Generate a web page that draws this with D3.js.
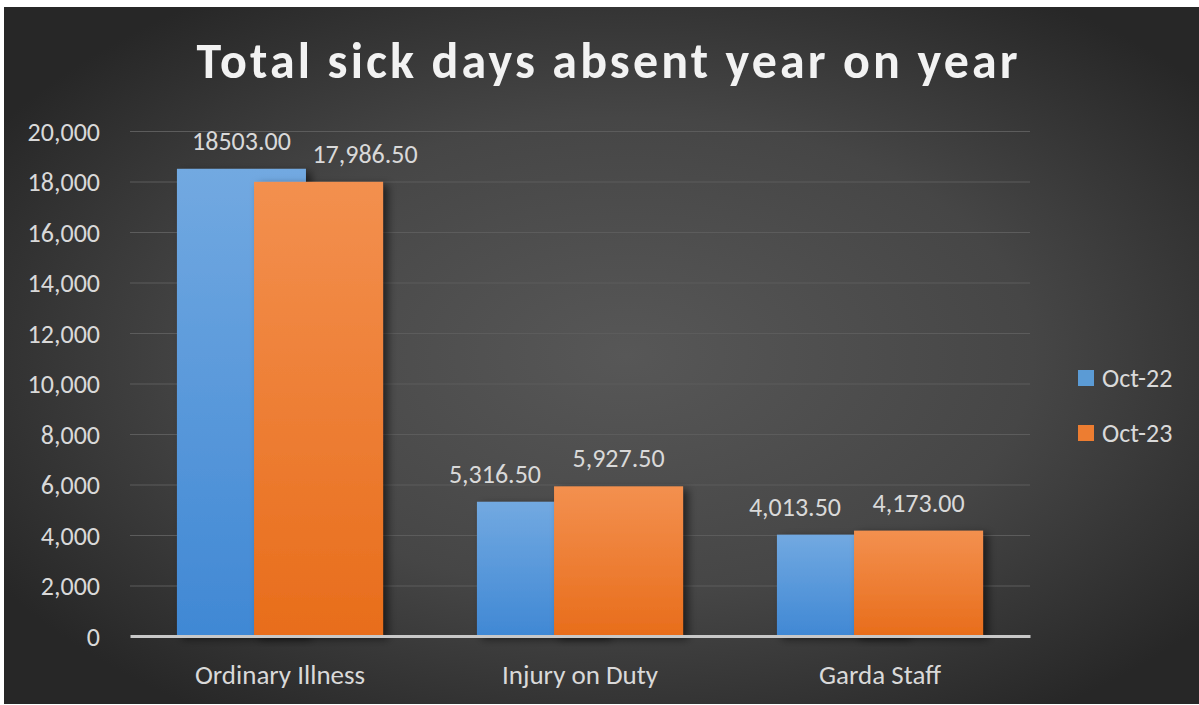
<!DOCTYPE html>
<html>
<head>
<meta charset="utf-8">
<script src="https://cdn.jsdelivr.net/npm/d3@7"></script>
<style>
  html, body { margin: 0; padding: 0; background: #ffffff; }
  svg { display: block; }
  text { font-family: Carlito, Lato, "Open Sans", sans-serif; }
</style>
</head>
<body>
<svg id="chart" width="1199" height="705"></svg>
<script>
// ---- data ----
const categories = ["Ordinary Illness", "Injury on Duty", "Garda Staff"];
const seriesNames = ["Oct-22", "Oct-23"];
const oct22Values = [18503.0, 5316.5, 4013.5];
const oct23Values = [17986.5, 5927.5, 4173.0];
const oct22Labels = ["18503.00", "5,316.50", "4,013.50"];
const oct23Labels = ["17,986.50", "5,927.50", "4,173.00"];
const yTicks = [0, 2000, 4000, 6000, 8000, 10000, 12000, 14000, 16000, 18000, 20000];
const title = "Total sick days absent year on year";

// ---- setup ----
const svg = d3.select("#chart");
const W = 1199, H = 705;
const defs = svg.append("defs");

const bg = defs.append("radialGradient").attr("id", "bg")
  .attr("cx", "52%").attr("cy", "50%").attr("r", "62%");
bg.append("stop").attr("offset", "0%").attr("stop-color", "#575757");
bg.append("stop").attr("offset", "55%").attr("stop-color", "#464646");
bg.append("stop").attr("offset", "100%").attr("stop-color", "#272727");

const gBlue = defs.append("linearGradient").attr("id", "gBlue").attr("x1", 0).attr("y1", 0).attr("x2", 0).attr("y2", 1);
gBlue.append("stop").attr("offset", "0%").attr("stop-color", "#72a9e1");
gBlue.append("stop").attr("offset", "100%").attr("stop-color", "#4088d4");
const gOrange = defs.append("linearGradient").attr("id", "gOrange").attr("x1", 0).attr("y1", 0).attr("x2", 0).attr("y2", 1);
gOrange.append("stop").attr("offset", "0%").attr("stop-color", "#f3904f");
gOrange.append("stop").attr("offset", "100%").attr("stop-color", "#e86d1b");

const shadow = defs.append("filter").attr("id", "shadow")
  .attr("x", "-20%").attr("y", "-20%").attr("width", "150%").attr("height", "140%");
shadow.append("feDropShadow").attr("dx", 5).attr("dy", 3).attr("stdDeviation", 4)
  .attr("flood-color", "#000").attr("flood-opacity", 0.55);

// chart area (white border around)
svg.append("rect").attr("x", 4).attr("y", 7).attr("width", W - 4).attr("height", H - 8)
  .attr("fill", "url(#bg)");

const textColor = "#d9d9d9";
const fs = 26;

// title
svg.append("text")
  .attr("x", 607).attr("y", 78)
  .attr("text-anchor", "middle")
  .attr("fill", "#f2f2f2")
  .attr("font-size", 50)
  .attr("font-weight", "bold")
  .attr("textLength", 821).attr("lengthAdjust", "spacing")
  .text(title);

// scales
const x = d3.scaleBand().domain(categories).range([130, 1030]).padding(0);
const y = d3.scaleLinear().domain([0, 20000]).range([636, 131]);

const bw = x.bandwidth();
const barW = bw * 0.43;
const groupW = bw * 0.687;

// gridlines
svg.append("g").selectAll("line").data(yTicks.filter(t => t > 0)).join("line")
  .attr("x1", 130).attr("x2", 1030)
  .attr("y1", d => y(d) + 0.5).attr("y2", d => y(d) + 0.5)
  .attr("stroke", "#5c5c5c").attr("stroke-width", 1);

// y axis labels via d3 axis
const yAxis = d3.axisLeft(y).tickValues(yTicks).tickFormat(d3.format(",")).tickSize(0).tickPadding(0);
const yg = svg.append("g").attr("transform", "translate(100,0)").call(yAxis);
yg.select(".domain").remove();
yg.selectAll("text").attr("fill", textColor).attr("font-size", fs)
  .attr("font-family", "Carlito, Lato, sans-serif").attr("dy", "0.35em");

// bars
const rows = categories.map((c, i) => ({
  cat: c,
  vals: [oct22Values[i], oct23Values[i]],
  labels: [oct22Labels[i], oct23Labels[i]]
}));

const fills = ["url(#gBlue)", "url(#gOrange)"];
const barX = (d, s) => {
  const c = x(d.cat) + bw / 2;
  return s === 0 ? c - groupW / 2 : c + groupW / 2 - barW;
};

[0, 1].forEach(s => {
  svg.append("g").attr("filter", "url(#shadow)").selectAll("rect").data(rows).join("rect")
    .attr("x", d => barX(d, s))
    .attr("y", d => y(d.vals[s]))
    .attr("width", barW)
    .attr("height", d => y(0) - y(d.vals[s]))
    .attr("fill", fills[s]);
});

// x axis line
const xAxis = d3.axisBottom(x).tickSize(0).tickPadding(0);
const xg = svg.append("g").attr("transform", `translate(0,${y(0)})`).call(xAxis);
xg.select(".domain").attr("stroke", "#c8c8c8").attr("stroke-width", 3);
xg.selectAll("text").attr("fill", textColor).attr("font-size", 27)
  .attr("font-family", "Carlito, Lato, sans-serif").attr("dy", 0).attr("y", 48);

// data labels: shorter bar's label nudged away from its partner
[0, 1].forEach(s => {
  svg.append("g").selectAll("text").data(rows).join("text")
    .attr("x", d => {
      let cx = barX(d, s) + barW / 2;
      const other = d.vals[1 - s];
      if (d.vals[s] < other) cx += (s === 0 ? -1 : 1) * bw * 0.155;
      return cx;
    })
    .attr("y", d => y(d.vals[s]) - 19)
    .attr("text-anchor", "middle")
    .attr("fill", textColor)
    .attr("font-size", fs)
    .text(d => d.labels[s]);
});

// legend
const legendColors = ["#5b9bd5", "#ed7d31"];
const lg = svg.append("g");
const legendY = [378, 433];
seriesNames.forEach((n, i) => {
  lg.append("rect").attr("x", 1078).attr("y", legendY[i] - 8).attr("width", 16).attr("height", 16)
    .attr("fill", legendColors[i]);
  lg.append("text").attr("x", 1102).attr("y", legendY[i]).attr("dy", "0.35em")
    .attr("fill", textColor).attr("font-size", fs).text(n);
});
</script>
</body>
</html>
